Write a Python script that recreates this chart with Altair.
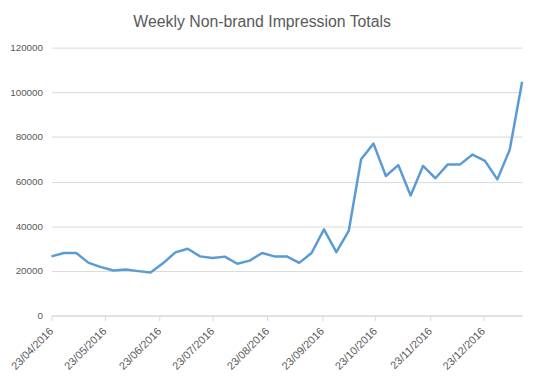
import altair as alt
import pandas as pd

dates = [
    "2016-04-23", "2016-04-30", "2016-05-07", "2016-05-14", "2016-05-21", "2016-05-28",
    "2016-06-04", "2016-06-11", "2016-06-18", "2016-06-25", "2016-07-02", "2016-07-09",
    "2016-07-16", "2016-07-23", "2016-07-30", "2016-08-06", "2016-08-13", "2016-08-20",
    "2016-08-27", "2016-09-03", "2016-09-10", "2016-09-17", "2016-09-24", "2016-10-01",
    "2016-10-08", "2016-10-15", "2016-10-22", "2016-10-29", "2016-11-05", "2016-11-12",
    "2016-11-19", "2016-11-26", "2016-12-03", "2016-12-10", "2016-12-17", "2016-12-24",
    "2016-12-31", "2017-01-07", "2017-01-14",
]
impressions = [
    26500, 28000, 28000, 23600, 21700, 20200, 20600, 19900, 19300, 23400,
    28300, 29900, 26500, 25800, 26400, 23200, 24600, 28000, 26500, 26500,
    23600, 28000, 38600, 28400, 37900, 70000, 77000, 62500, 67400, 53800,
    67000, 61500, 67700, 67700, 72100, 69300, 61000, 74300, 104700,
]
tick_months = [4, 5, 6, 7, 8, 9, 10, 11, 12]
y_ticks = [0, 20000, 40000, 60000, 80000, 100000, 120000]

df = pd.DataFrame({"date": dates, "value": impressions})

FONT = "Liberation Sans"
GREY = "#595959"
GRID = "#d9d9d9"

chart = (
    alt.Chart(df)
    .mark_line(color="#5b9bd5", strokeWidth=2.5, strokeJoin="round")
    .encode(
        x=alt.X(
            "date:T",
            scale=alt.Scale(
                type="utc",
                domain=[alt.DateTime(year=2016, month=4, date=23, utc=True),
                        alt.DateTime(year=2017, month=1, date=14, utc=True)],
                nice=False,
            ),
            axis=alt.Axis(
                title=None,
                values=[alt.DateTime(year=2016, month=m, date=23, utc=True) for m in tick_months],
                format="%d/%m/%Y",
                labelAngle=-45,
                labelAlign="right",
                labelBaseline="middle",
                labelPadding=9,
                labelFontSize=11,
                labelFont=FONT,
                labelColor=GREY,
                domainColor=GRID,
                tickColor=GRID,
                tickSize=5,
                grid=False,
                labelOverlap=False,
            ),
        ),
        y=alt.Y(
            "value:Q",
            scale=alt.Scale(domain=[0, 120000], nice=False),
            axis=alt.Axis(
                title=None,
                values=y_ticks,
                format="d",
                domain=False,
                ticks=False,
                labelPadding=9,
                labelFontSize=10,
                labelFont=FONT,
                labelColor=GREY,
                gridColor=GRID,
                gridWidth=1,
            ),
        ),
    )
    .properties(
        width=476,
        height=271,
        autosize=alt.AutoSizeParams(type="none"),
        padding={"left": 44, "top": 38, "right": 10, "bottom": 55},
        title=alt.TitleParams(
            "Weekly Non-brand Impression Totals",
            font=FONT,
            fontSize=16,
            fontWeight="normal",
            color=GREY,
            anchor="middle",
            frame="bounds",
            offset=13,
            dx=-4,
        ),
    )
    .configure_view(stroke=None)
)

chart.save("out.html", embed_options={"renderer": "svg", "actions": False})
